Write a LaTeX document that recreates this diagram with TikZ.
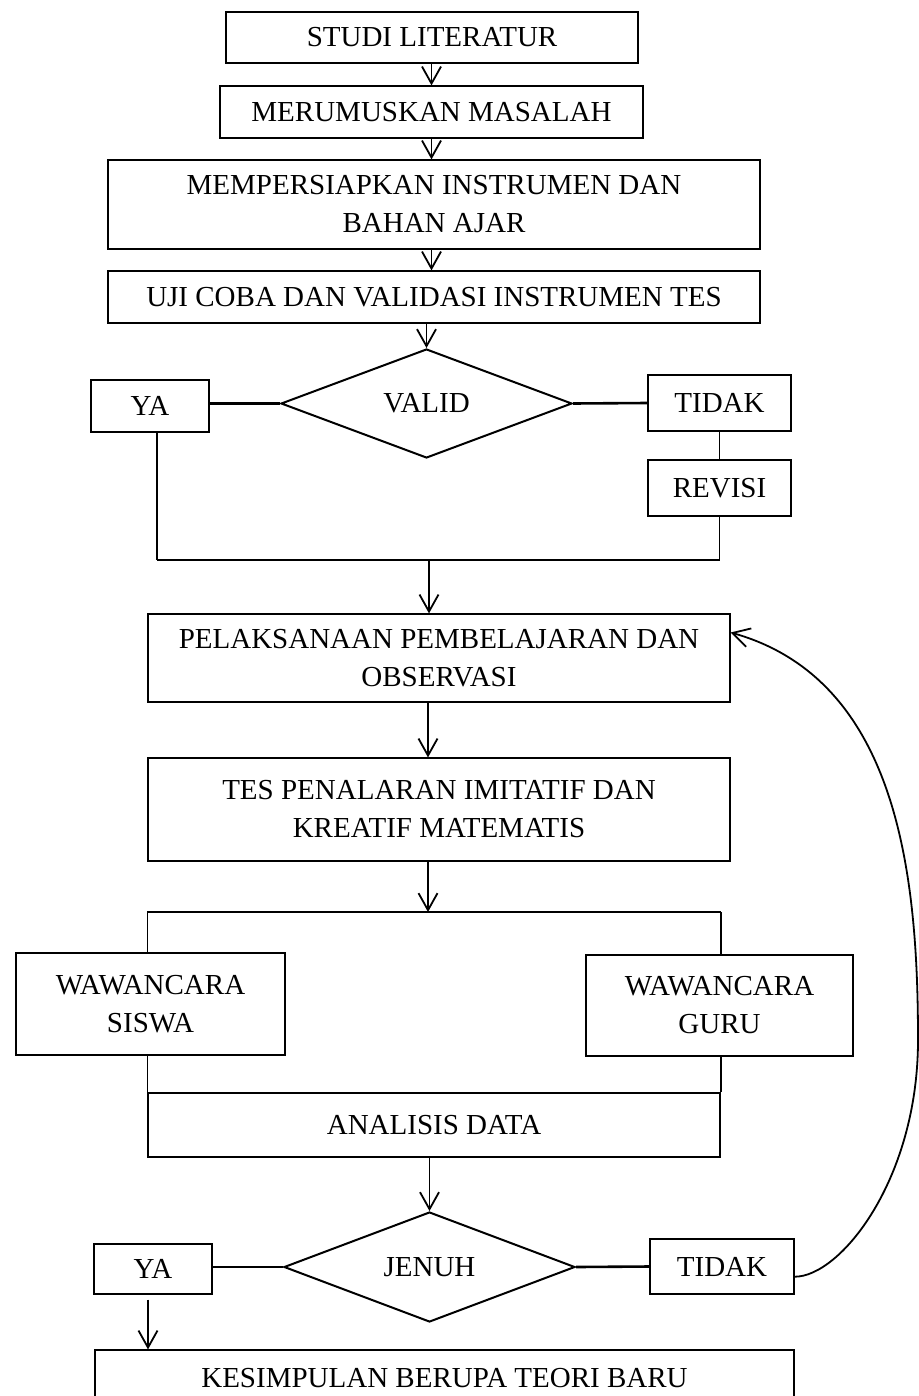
\documentclass[tikz,border=0pt]{standalone}
\usepackage{fontspec}
\setmainfont{Liberation Serif}
\usetikzlibrary{arrows.meta, shapes.geometric, calc}

\begin{document}
\begin{tikzpicture}[x=0.5pt, y=-0.5pt, >={Straight Barb[length=8.5pt, width=9.5pt]},
	box/.style={draw, line width=0.6pt, inner sep=0pt, align=center, font=\fontsize{14.5}{19}\selectfont},
	choice/.style={draw, diamond, aspect=2.67, line width=1pt, inner sep=0pt, font=\fontsize{14.5}{19}\selectfont},
	link/.style={line width=0.9pt},
	merge/.style={line width=1.3pt}]
		\useasboundingbox (0,0) rectangle (919,1396);
		\node[box, minimum width=206pt, minimum height=25.5pt] (studi) at (432,37.5) {STUDI LITERATUR};
		\node[box, minimum width=211.5pt, minimum height=26pt] (rumus) at (431.5,112) {MERUMUSKAN MASALAH};
		\node[box, minimum width=326pt, minimum height=44.5pt] (siap) at (434,204.5) {MEMPERSIAPKAN INSTRUMEN DAN\\BAHAN AJAR};
		\node[box, minimum width=326pt, minimum height=26pt] (uji) at (434,297) {UJI COBA DAN VALIDASI INSTRUMEN TES};
		\node[choice, minimum width=145.5pt, minimum height=54.5pt] (valid) at (426.5,403.5) {VALID};
		\node[box, minimum width=59pt, minimum height=26pt] (ya1) at (150,406) {YA};
		\node[box, minimum width=71.5pt, minimum height=28pt] (tidak1) at (719.5,403) {TIDAK};
		\node[box, minimum width=71.5pt, minimum height=28pt] (revisi) at (719.5,488) {REVISI};
		\coordinate (join) at (429,560);
		\coordinate (yadown) at ($(ya1.south)+(7,0)$);
		\node[box, minimum width=291pt, minimum height=44pt] (pel) at (439,658) {PELAKSANAAN PEMBELAJARAN DAN\\OBSERVASI};
		\node[box, minimum width=291pt, minimum height=51.5pt] (tes) at (439,809.5) {TES PENALARAN IMITATIF DAN\\KREATIF MATEMATIS};
		\coordinate (split) at (428,912);
		\node[box, minimum width=134.5pt, minimum height=51pt] (ws) at (150.5,1004) {WAWANCARA\\SISWA};
		\node[box, minimum width=133.5pt, minimum height=50.5pt] (wg) at (719.5,1005.5) {WAWANCARA\\GURU};
		\node[box, minimum width=286pt, minimum height=32pt] (analisis) at (434,1125) {ANALISIS DATA};
		\node[choice, minimum width=145.5pt, minimum height=55pt] (jenuh) at (429.5,1267) {JENUH};
		\node[box, minimum width=59pt, minimum height=25pt] (ya2) at (153,1269) {YA};
		\node[box, minimum width=72pt, minimum height=27.5pt] (tidak2) at (722,1266.5) {TIDAK};
		\node[box, minimum width=349.5pt, minimum height=28pt] (simpul) at (444.5,1378) {KESIMPULAN BERUPA TEORI BARU};
		\coordinate (yatail) at ($(ya2.south)+(-5,5)$);

		\draw[link, ->] (rumus.north |- studi.south) -- (rumus.north);
		\draw[link, ->] (rumus.south) -- (rumus.south |- siap.north);
		\draw[link, ->] (rumus.south |- siap.south) -- (rumus.south |- uji.north);
		\draw[link, ->] (valid.north |- uji.south) -- (valid.north);
		\draw[merge] (ya1.east |- valid.west) -- (valid.west);
		\draw[merge] (valid.east) -- (tidak1.west);
		\draw[link] (tidak1.south) -- (revisi.north);
		\draw[link] (yadown) -- (yadown |- join);
		\draw[link] (revisi.south) -- (revisi.south |- join);
		\draw[merge] (yadown |- join) -- (revisi.south |- join);
		\draw[link, ->] (join) -- (join |- pel.north);
		\draw[link, ->] (split |- pel.south) -- (split |- tes.north);
		\draw[link, ->] (split |- tes.south) -- (split);
		\draw[merge] (analisis.west |- split) -- (analisis.east |- split);
		\draw[link] (analisis.west |- split) -- (analisis.west |- ws.north);
		\draw[link] (analisis.east |- split) -- (analisis.east |- wg.north);
		\draw[link] (analisis.west |- ws.south) -- (analisis.north west);
		\draw[link] (analisis.east |- wg.south) -- (analisis.north east);
		\draw[link, ->] (jenuh.north |- analisis.south) -- (jenuh.north);
		\draw[merge] (ya2.east |- jenuh.west) -- (jenuh.west);
		\draw[merge] (jenuh.east) -- (tidak2.west);
		\draw[link, ->] (yatail) -- (yatail |- simpul.north);
		\draw[link, ->] (tidak2.-8) .. controls (840,1277) and (918,1180) .. (918,1040) .. controls (918,880) and (900,680) .. (pel.5);
	\end{tikzpicture}
\end{document}
